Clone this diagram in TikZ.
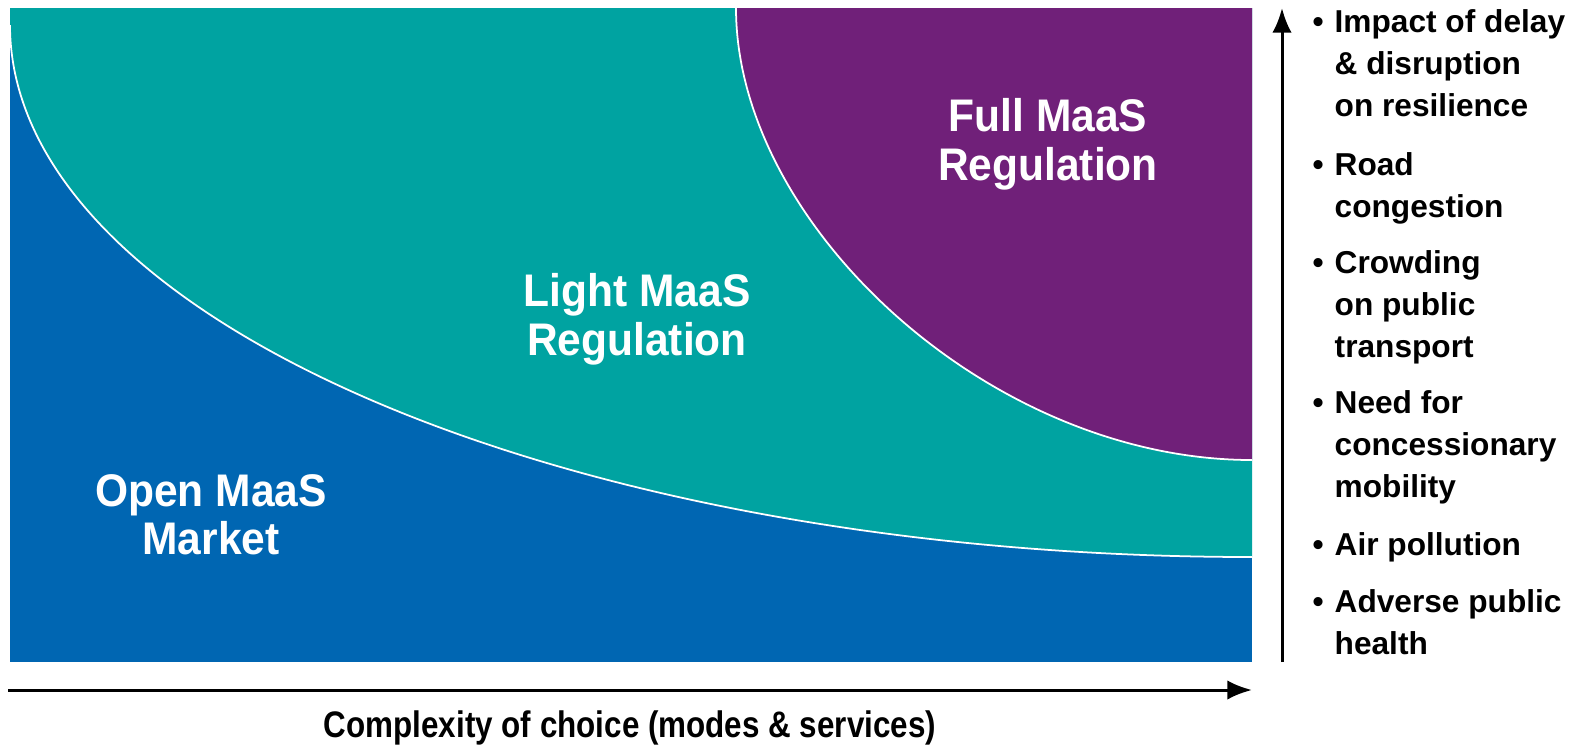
\documentclass[tikz,border=0pt]{standalone}
\usepackage{fontspec}
\setmainfont{Liberation Sans}
\newfontfamily\regionfont{Liberation Sans}[FakeStretch=0.93]
\newfontfamily\axisfont{Liberation Sans}[FakeStretch=0.85]
\usetikzlibrary{arrows.meta}
\definecolor{openblue}{RGB}{0,102,178}
\definecolor{lightteal}{RGB}{0,163,161}
\definecolor{fullpurple}{RGB}{112,32,121}
\tikzset{
	region/.style={text=white, align=center, anchor=north, inner sep=0pt,
		font=\regionfont\bfseries\fontsize{13}{13.7}\selectfont},
	factor/.style={anchor=north west, align=left, inner sep=0pt,
		font=\bfseries\fontsize{9}{11.9}\selectfont},
	axis/.style={line width=0.85pt, -{Latex[length=7pt,width=5.5pt]}},
	seam/.style={white, line width=0.5pt},
}
\newcommand{\bul}{\llap{\textbullet\hspace{1.1mm}}}

\begin{document}
\begin{tikzpicture}[x=0.01cm, y=-0.01cm]
			% frame of the page, pixels of the reference (y runs down)
			\useasboundingbox (0,0) rectangle (1587,744);
			
			% corners of the chart
			\def\xl{10}
			\def\xr{1252}
			\def\yt{8}
			\def\yb{662}
			
			% blue base: open market
			\fill [openblue] (\xl,\yt) rectangle (\xr,\yb);
			% teal band above the quarter ellipse
			\fill [lightteal] (\xl,\yt) -- (\xl,25) arc[start angle=180, end angle=90, x radius=1242, y radius=532] -- (\xr,\yt) -- cycle;
			% purple corner: full regulation
			\fill [fullpurple] (736,\yt) .. controls (736,225) and (990,460) .. (\xr,460) -- (\xr,\yt) -- cycle;
			
			% thin white seams between the areas
			\draw[seam] (\xl,25) arc[start angle=180, end angle=90, x radius=1242, y radius=532];
			\draw[seam] (736,\yt) .. controls (736,225) and (990,460) .. (\xr,460);
			
			% area labels
			\node[region] (open) at (211,474) {Open MaaS\\Market};
			\node[region] (light) at (637,273) {Light MaaS\\Regulation};
			\node[region] (full) at (1048,98) {Full MaaS\\Regulation};
			
			% axes
			\coordinate (xstart) at (8,690);
			\coordinate (xend) at (1252,690);
			\coordinate (ystart) at (1282,662);
			\coordinate (yend) at (1282,8);
			\draw[axis] (xstart) -- (xend);
			\draw[axis] (ystart) -- (yend);
			\node[anchor=base, inner sep=0pt, font=\axisfont\bfseries\fontsize{10.5}{12}\selectfont] (xlabel) at (630,737) {Complexity of choice (modes \& services)};
			
			% list of drivers along the vertical axis
			\def\fx{1334}
			\node[factor] (delay) at (\fx,9) {\bul Impact of delay\\\& disruption\\on resilience};
			\node[factor] (road) at (\fx,152) {\bul Road\\congestion};
			\node[factor] (crowd) at (\fx,250) {\bul Crowding\\on public\\transport};
			\node[factor] (need) at (\fx,390) {\bul Need for\\concessionary\\mobility};
			\node[factor] (air) at (\fx,532) {\bul Air pollution};
			\node[factor] (health) at (\fx,589) {\bul Adverse public\\health};
			
\end{tikzpicture}
\end{document}
